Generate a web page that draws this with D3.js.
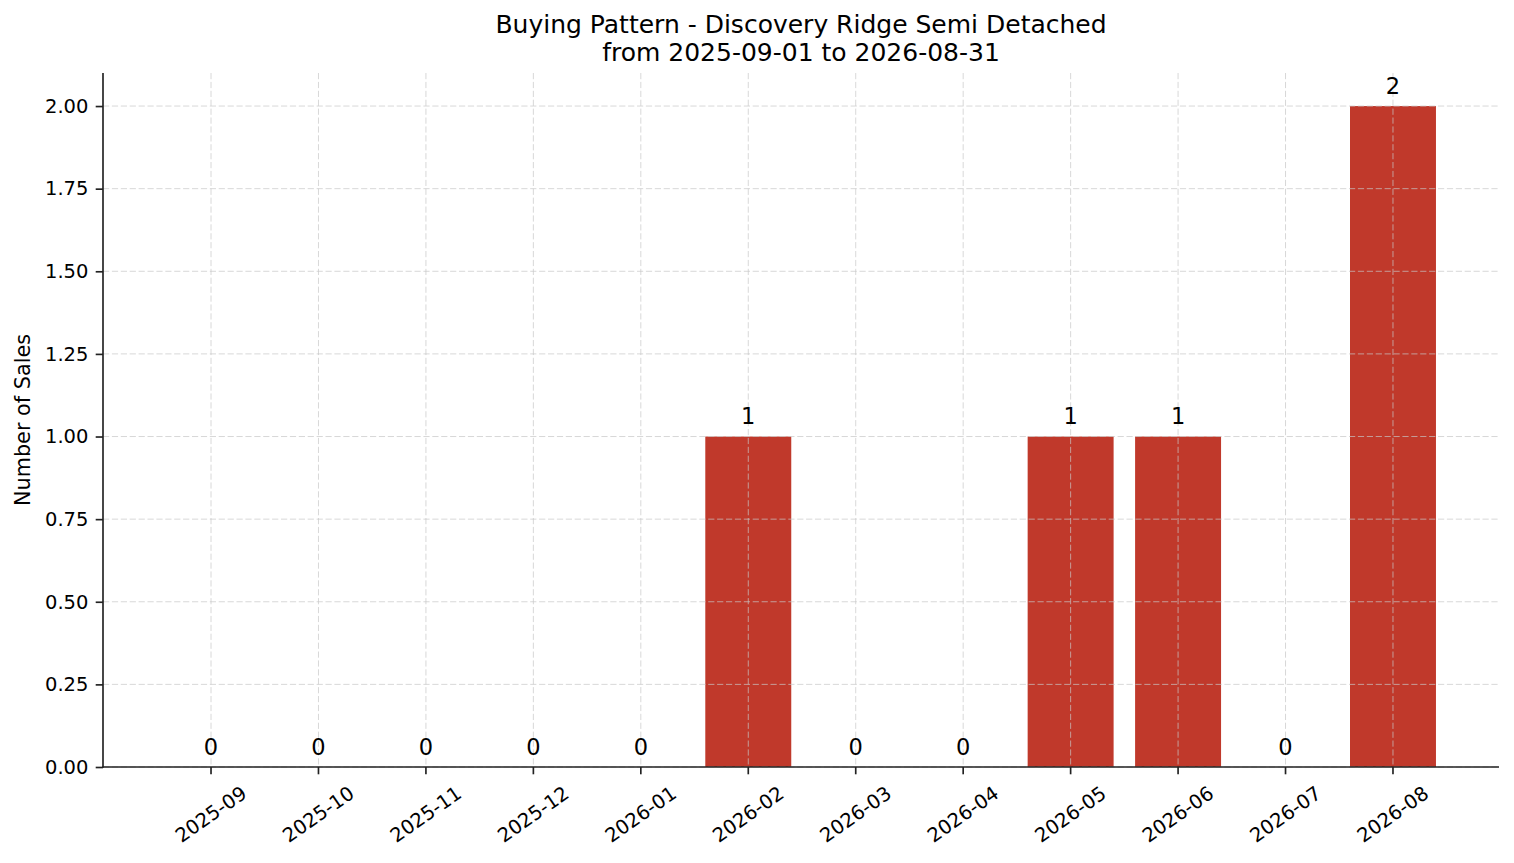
<!DOCTYPE html>
<html>
<head>
<meta charset="utf-8">
<script src="https://cdn.jsdelivr.net/npm/d3@7"></script>
<style>
  html, body { margin: 0; padding: 0; background: #fff; }
  svg { display: block; font-family: "DejaVu Sans", sans-serif; }
</style>
</head>
<body>
<svg id="chart" width="1514" height="863"></svg>
<script>
// ---- data ----
const months = ["2025-09","2025-10","2025-11","2025-12","2026-01","2026-02",
                "2026-03","2026-04","2026-05","2026-06","2026-07","2026-08"];
const sales = [0, 0, 0, 0, 0, 1, 0, 0, 1, 1, 0, 2];
const yTicks = [0, 0.25, 0.5, 0.75, 1.0, 1.25, 1.5, 1.75, 2.0];
const titleLines = ["Buying Pattern - Discovery Ridge Semi Detached",
                    "from 2025-09-01 to 2026-08-31"];
const yLabel = "Number of Sales";

// ---- layout ----
const plotL = 103, plotR = 1499, plotT = 73, plotB = 767;
const barColor = "#c0392b";
const axisColor = "#222";

const svg = d3.select("#chart");

const x = d3.scaleBand()
  .domain(months)
  .range([plotL + 1, plotR + 1])
  .paddingInner(0.2)
  .paddingOuter(0.596);

const y = d3.scaleLinear().domain([0, 2.1]).range([plotB, plotT]);

const rows = months.map((m, i) => ({m, v: sales[i]}));

// bars
svg.append("g").selectAll("rect")
  .data(rows)
  .join("rect")
  .attr("x", d => x(d.m))
  .attr("width", x.bandwidth())
  .attr("y", d => y(d.v))
  .attr("height", d => y(0) - y(d.v))
  .attr("fill", barColor);

// grid (drawn above bars)
const grid = svg.append("g")
  .attr("stroke", "#c8c8c8")
  .attr("stroke-opacity", 0.7)
  .attr("stroke-width", 1.0)
  .attr("stroke-dasharray", "6.2,2.7");
grid.selectAll("line.h").data(yTicks).join("line").attr("class", "h")
  .attr("x1", plotL).attr("x2", plotR)
  .attr("y1", d => y(d)).attr("y2", d => y(d));
grid.selectAll("line.v").data(months).join("line").attr("class", "v")
  .attr("x1", d => x(d) + x.bandwidth() / 2).attr("x2", d => x(d) + x.bandwidth() / 2)
  .attr("y1", plotT).attr("y2", plotB);

// value labels
svg.append("g").selectAll("text")
  .data(rows)
  .join("text")
  .attr("x", d => x(d.m) + x.bandwidth() / 2)
  .attr("y", d => y(d.v) - 12.5)
  .attr("text-anchor", "middle")
  .attr("font-size", "22.5px")
  .attr("fill", "#000")
  .text(d => d.v);

// y axis
const yAxis = svg.append("g")
  .attr("transform", `translate(${plotL},0)`)
  .call(d3.axisLeft(y).tickValues(yTicks).tickFormat(d3.format(".2f"))
        .tickSize(7.3).tickPadding(7.3));
yAxis.select(".domain").remove();
yAxis.selectAll(".tick line").attr("stroke", axisColor).attr("stroke-width", 1.67);
yAxis.selectAll(".tick text").attr("font-size", "19.5px").attr("fill", "#000")
  .attr("font-family", "DejaVu Sans, sans-serif");

// x axis
const xAxis = svg.append("g")
  .attr("transform", `translate(0,${plotB})`)
  .call(d3.axisBottom(x).tickSize(7.3).tickSizeOuter(0));
xAxis.select(".domain").remove();
xAxis.selectAll(".tick line").attr("stroke", axisColor).attr("stroke-width", 1.67);
xAxis.selectAll(".tick text")
  .attr("font-size", "19.5px").attr("fill", "#000")
  .attr("font-family", "DejaVu Sans, sans-serif")
  .attr("text-anchor", "middle")
  .attr("dominant-baseline", "central")
  .attr("dy", null)
  .attr("y", 47.5)
  .attr("transform", "rotate(-35, 0, 47.5)");

// spines
svg.append("line").attr("x1", plotL).attr("x2", plotL).attr("y1", plotT).attr("y2", plotB + 0.8)
  .attr("stroke", axisColor).attr("stroke-width", 1.67);
svg.append("line").attr("x1", plotL - 0.8).attr("x2", plotR).attr("y1", plotB).attr("y2", plotB)
  .attr("stroke", axisColor).attr("stroke-width", 1.67);

// y label
svg.append("text")
  .attr("transform", `translate(23,${(plotT + plotB) / 2}) rotate(-90)`)
  .attr("text-anchor", "middle")
  .attr("dominant-baseline", "central")
  .attr("font-size", "20.8px")
  .attr("fill", "#000")
  .text(yLabel);

// title
svg.append("g").selectAll("text")
  .data(titleLines)
  .join("text")
  .attr("x", (plotL + plotR) / 2)
  .attr("y", (d, i) => 33 + i * 27.5)
  .attr("text-anchor", "middle")
  .attr("font-size", "25px")
  .attr("fill", "#000")
  .text(d => d);
</script>
</body>
</html>
